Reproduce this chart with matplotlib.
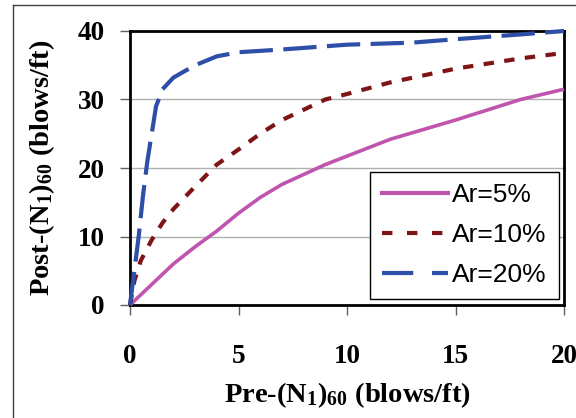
import matplotlib
matplotlib.use('Agg')
import matplotlib.pyplot as plt
from matplotlib.lines import Line2D

# -------------------------------
# Data
# -------------------------------
x_ar5 = [0, 1, 2, 3, 4, 5, 6, 7, 9, 12, 15, 18, 20]
y_ar5 = [0, 3, 6, 8.5, 10.8, 13.4, 15.7, 17.6, 20.5, 24.2, 27, 30, 31.5]

x_ar10 = [0, 0.2, 0.5, 1, 1.5, 2, 3, 4, 5, 6, 7, 8, 9, 10, 12, 15, 18, 20]
y_ar10 = [0, 3.5, 6.5, 9.5, 12, 14, 17.3, 20.5, 22.7, 25, 27, 28.5, 30, 30.8, 32.5, 34.5, 36, 36.8]

x_ar20 = [0, 0.2, 0.4, 0.6, 0.8, 1, 1.2, 1.5, 2, 3, 4, 5, 7, 10, 13, 15, 18, 20]
y_ar20 = [0, 5, 10, 16, 21, 25, 29, 31.5, 33.2, 35, 36.3, 36.9, 37.3, 38, 38.3, 38.8, 39.5, 40]

labels = ['Ar=5%', 'Ar=10%', 'Ar=20%']
colors = ['#C055B0', '#7F1416', '#2E4FA8']

plt.rcParams['mathtext.fontset'] = 'custom'
plt.rcParams['mathtext.rm'] = 'Liberation Serif:bold'
plt.rcParams['mathtext.it'] = 'Liberation Serif:bold'
plt.rcParams['mathtext.bf'] = 'Liberation Serif:bold'

fig = plt.figure(figsize=(5.76, 4.18), dpi=100)
ax = fig.add_axes([130/576, 1 - 305/418, 434/576, 274/418])

ax.plot(x_ar5, y_ar5, color=colors[0], lw=2.6, solid_capstyle='butt', clip_on=False, zorder=3)
ax.plot(x_ar10, y_ar10, color=colors[1], lw=3, dashes=(2.5, 2.5), dash_capstyle='butt',
        clip_on=False, zorder=3)
ax.plot(x_ar20, y_ar20, color=colors[2], lw=3, dashes=(8, 2.5), dash_capstyle='butt',
        clip_on=False, zorder=3)

ax.set_xlim(0, 20)
ax.set_ylim(0, 40)
ax.set_xticks([0, 5, 10, 15, 20])
ax.set_yticks([0, 10, 20, 30, 40])
ax.grid(axis='y', color='#B0B0B0', lw=1)
ax.set_axisbelow(True)

for s in ['left', 'bottom', 'right', 'top']:
    ax.spines[s].set_linewidth(2)
    ax.spines[s].set_color('black')

ax.tick_params(axis='both', direction='out', length=7, width=1, color='#606060')
ax.tick_params(axis='x', pad=21)
ax.tick_params(axis='y', pad=11)
for t in ax.get_xticklabels() + ax.get_yticklabels():
    t.set_family('Liberation Serif')
    t.set_weight('bold')
    t.set_fontsize(19.5)

ax.set_xlabel('Pre-(N$_1$)$_{60}$ (blows/ft)', family='Liberation Serif',
              weight='bold', fontsize=20.5, va='center')
ax.set_ylabel('Post-(N$_1$)$_{60}$ (blows/ft)', family='Liberation Serif',
              weight='bold', fontsize=20.5, va='center')
ax.xaxis.set_label_coords(0.5, -0.33)
ax.yaxis.set_label_coords(-0.203, 0.5)

handles = [
    Line2D([], [], color=colors[0], lw=3),
    Line2D([], [], color=colors[1], lw=3, dashes=(2.5, 3.5), dash_capstyle='butt'),
    Line2D([], [], color=colors[2], lw=3, dashes=(7.5, 4.5), dash_capstyle='butt'),
]
leg = ax.legend(handles, labels, loc='lower right', bbox_to_anchor=(0.988, 0.022),
                borderaxespad=0, frameon=True, fancybox=False, framealpha=1,
                edgecolor='black', handlelength=2.5, handletextpad=0.15,
                labelspacing=0.6, borderpad=0.45,
                prop={'family': 'Liberation Sans', 'size': 19})
leg.get_frame().set_linewidth(1)

# figure border
fig.add_artist(Line2D([12.5/576, 12.5/576], [0, 1 - 5/418], color='#404040', lw=1))
fig.add_artist(Line2D([12.5/576, 1], [1 - 5/418, 1 - 5/418], color='#404040', lw=1))

fig.savefig('out.png', dpi=100)
